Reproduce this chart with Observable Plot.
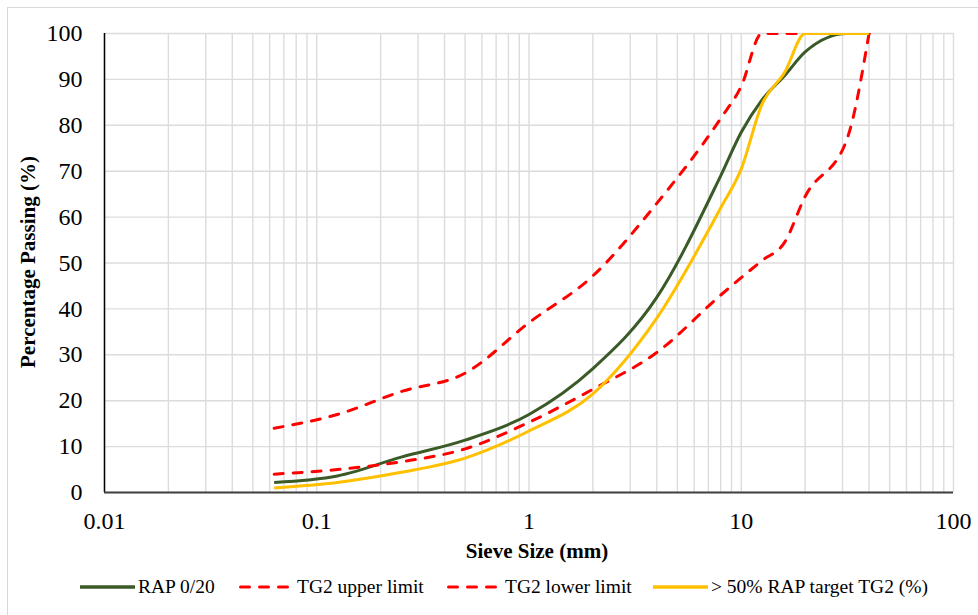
<!DOCTYPE html>
<html>
<head>
<meta charset="utf-8">
<script src="https://cdn.jsdelivr.net/npm/d3@7"></script>
<script src="https://cdn.jsdelivr.net/npm/@observablehq/plot@0.6"></script>
<style>
  html, body { margin: 0; padding: 0; background: #fff; }
  #wrap { position: relative; width: 978px; height: 615px; overflow: hidden; font-family: "Liberation Serif", "Times New Roman", serif; }
  #border { position: absolute; left: 7px; top: 7px; width: 1000px; height: 700px; border: 1px solid #d9d9d9; box-sizing: border-box; }
  #chart { position: absolute; left: 0; top: 0; }
  #chart svg, #chart svg text { font-family: "Liberation Serif", "Times New Roman", serif !important; }
  .title { position: absolute; font-weight: bold; font-size: 21px; color: #000; white-space: nowrap; }
  #xtitle { left: 537px; top: 551px; transform: translate(-50%, -50%); }
  #ytitle { left: 28px; top: 262px; transform: translate(-50%, -50%) rotate(-90deg); }
  .leg { position: absolute; top: 587px; transform: translateY(-50%); font-size: 19.5px; white-space: nowrap; display: flex; align-items: center; }
  .leg svg { margin-right: 3px; }
</style>
</head>
<body>
<div id="wrap">
  <div id="border"></div>
  <div id="chart"></div>
  <div class="title" id="ytitle">Percentage Passing (%)</div>
  <div class="title" id="xtitle">Sieve Size (mm)</div>
  <div id="legend"></div>
</div>
<script>
// Sieve sizes (mm)
const sizes = [0.063, 0.125, 0.25, 0.5, 1, 2, 4, 8, 10, 12.5, 16, 20, 31.5, 40];
// Percentage passing for each series
const rap020 = [2.2, 3.6, 7.7, 11.4, 17, 27, 42.5, 69, 78.5, 85.5, 90.8, 96, 100, 100];
const tg2Upper = [14, 17, 22, 26, 37, 47.2, 63, 81.5, 88.5, 100, 100, 100, 100, 100];
const tg2Lower = [4, 5, 6.7, 9.5, 15.3, 22.5, 30.5, 43, 46.8, 50.5, 54.5, 64.5, 77, 100];
const rapTarget = [1, 2.2, 4.4, 7.5, 13.4, 21.5, 38, 62, 70.5, 84.5, 91.5, 100, 100, 100];

const seriesNames = ["RAP 0/20", "TG2 upper limit", "TG2 lower limit", "> 50% RAP target TG2 (%)"];
const seriesColors = ["#3a5a27", "#ff0000", "#ff0000", "#ffc000"];
const seriesDashed = [false, true, true, false];
const seriesValues = [rap020, tg2Upper, tg2Lower, rapTarget];

// Axis ticks
const xTicks = [0.01, 0.1, 1, 10, 100];
const yTicks = [0, 10, 20, 30, 40, 50, 60, 70, 80, 90, 100];

const serif = "'Liberation Serif', 'Times New Roman', serif";

const minorX = [];
for (const d of [0.01, 0.1, 1, 10]) for (let k = 1; k <= 9; k++) minorX.push(+(k * d).toPrecision(3));
minorX.push(100);

const lineMarks = seriesValues.map((vals, i) => {
  const data = sizes.map((s, j) => ({size: s, v: vals[j]}));
  return Plot.line(data, {
    x: "size", y: "v",
    stroke: seriesColors[i],
    strokeWidth: 3,
    strokeDasharray: seriesDashed[i] ? "9,10" : null,
    strokeLinecap: seriesDashed[i] ? "round" : "butt",
    curve: "monotone-x",
    clip: true
  });
});

const chart = Plot.plot({
  width: 978,
  height: 565,
  marginLeft: 104,
  marginRight: 25,
  marginTop: 33,
  marginBottom: 73,
  style: {fontFamily: serif, fontSize: "24px", color: "#000", background: "transparent"},
  x: {type: "log", domain: [0.01, 100]},
  y: {domain: [0, 100]},
  marks: [
    Plot.ruleX(minorX, {stroke: "#dcdcdc", strokeWidth: 1.4, strokeOpacity: 1}),
    Plot.ruleY(yTicks, {stroke: "#dcdcdc", strokeWidth: 1.4, strokeOpacity: 1}),
    Plot.axisX({ticks: xTicks, tickSize: 0, tickPadding: 19, tickFormat: d => String(d), label: null, fontFamily: serif, fontSize: 24}),
    Plot.axisY({ticks: yTicks, tickSize: 0, tickPadding: 22, tickFormat: d => String(d), label: null, fontFamily: serif, fontSize: 24}),
    ...lineMarks,
    Plot.ruleX([0.01], {stroke: "#000", strokeWidth: 1.5}),
    Plot.ruleY([0], {stroke: "#404040", strokeWidth: 2})
  ]
});
document.getElementById("chart").appendChild(chart);

// Legend
const legendX = [80, 239, 447, 653];
const legend = document.getElementById("legend");
seriesNames.forEach((name, i) => {
  const item = document.createElement("div");
  item.className = "leg";
  item.style.left = legendX[i] + "px";
  const dash = seriesDashed[i] ? `stroke-dasharray="9,10" stroke-linecap="round"` : "";
  item.innerHTML = `<svg width="55" height="10"><line x1="${seriesDashed[i] ? 1.5 : 0}" y1="5" x2="55" y2="5" stroke="${seriesColors[i]}" stroke-width="${seriesDashed[i] ? 3 : 3.5}" ${dash}/></svg><span></span>`;
  item.querySelector("span").textContent = name;
  legend.appendChild(item);
});
</script>
</body>
</html>
